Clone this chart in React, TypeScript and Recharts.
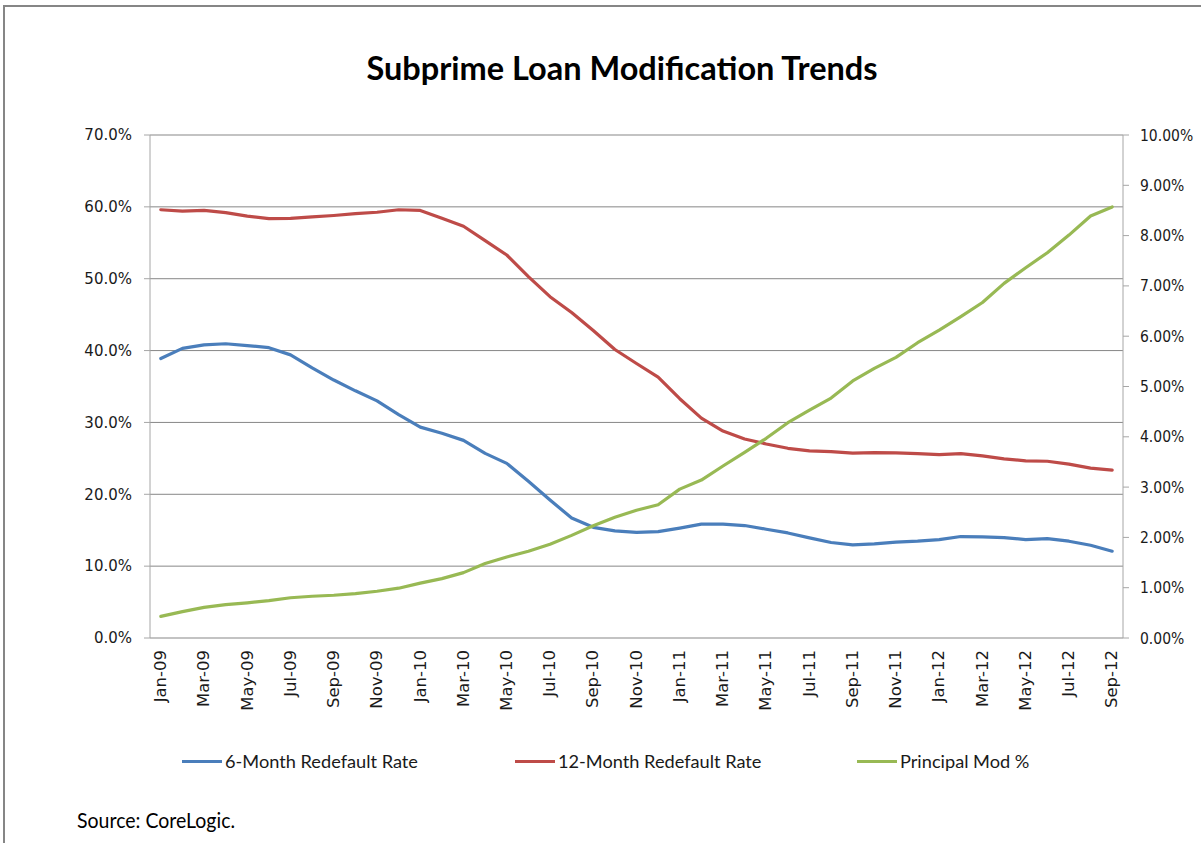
import React from 'react'
import { LineChart, Line, XAxis, YAxis, CartesianGrid } from 'recharts'

// month labels, Jan-09 .. Sep-12
const months = [
  'Jan-09', 'Feb-09', 'Mar-09', 'Apr-09', 'May-09', 'Jun-09', 'Jul-09', 'Aug-09', 'Sep-09', 'Oct-09', 'Nov-09', 'Dec-09',
  'Jan-10', 'Feb-10', 'Mar-10', 'Apr-10', 'May-10', 'Jun-10', 'Jul-10', 'Aug-10', 'Sep-10', 'Oct-10', 'Nov-10', 'Dec-10',
  'Jan-11', 'Feb-11', 'Mar-11', 'Apr-11', 'May-11', 'Jun-11', 'Jul-11', 'Aug-11', 'Sep-11', 'Oct-11', 'Nov-11', 'Dec-11',
  'Jan-12', 'Feb-12', 'Mar-12', 'Apr-12', 'May-12', 'Jun-12', 'Jul-12', 'Aug-12', 'Sep-12',
]

// left axis (%)
const sixMonthRate = [
  38.9, 40.3, 40.8, 40.95, 40.7, 40.4, 39.4, 37.6, 35.9, 34.4, 33.0, 31.1,
  29.35, 28.5, 27.5, 25.7, 24.3, 21.8, 19.2, 16.7, 15.4, 14.9, 14.7, 14.8,
  15.3, 15.84, 15.84, 15.65, 15.14, 14.62, 13.93, 13.29, 12.96, 13.1, 13.33, 13.47,
  13.7, 14.12, 14.08, 13.98, 13.7, 13.84, 13.47, 12.91, 12.08,
]
const twelveMonthRate = [
  59.6, 59.4, 59.5, 59.2, 58.7, 58.35, 58.4, 58.6, 58.8, 59.05, 59.25, 59.6,
  59.5, 58.4, 57.3, 55.3, 53.3, 50.3, 47.5, 45.3, 42.8, 40.15, 38.2, 36.3,
  33.3, 30.6, 28.8, 27.7, 27.0, 26.4, 26.04, 25.95, 25.72, 25.81, 25.76, 25.67,
  25.53, 25.67, 25.35, 24.93, 24.65, 24.6, 24.2, 23.64, 23.36,
]
// right axis (%)
const principalModPct = [
  0.43, 0.525, 0.61, 0.664, 0.7, 0.744, 0.8, 0.83, 0.85, 0.883, 0.93, 0.99,
  1.09, 1.18, 1.3, 1.48, 1.61, 1.725, 1.865, 2.04, 2.23, 2.4, 2.54, 2.65,
  2.96, 3.14, 3.42, 3.69, 3.97, 4.28, 4.53, 4.77, 5.11, 5.36, 5.58, 5.87,
  6.12, 6.39, 6.67, 7.05, 7.36, 7.66, 8.01, 8.39, 8.57,
]

const leftTicks = [0, 10, 20, 30, 40, 50, 60, 70]
const rightTicks = [0, 1, 2, 3, 4, 5, 6, 7, 8, 9, 10]

const series = [
  { key: 'six', name: '6-Month Redefault Rate', color: '#4a7ebb', axis: 'left', legendX: 182 },
  { key: 'twelve', name: '12-Month Redefault Rate', color: '#be4b48', axis: 'left', legendX: 515 },
  { key: 'principal', name: 'Principal Mod %', color: '#98b954', axis: 'right', legendX: 857 },
]

const chartData = months.map((month, i) => ({
  i,
  month,
  six: sixMonthRate[i],
  twelve: twelveMonthRate[i],
  principal: principalModPct[i],
}))

// labels on every other month, tick marks on the category boundaries like Excel
const labelTicks = months.map((_, i) => i).filter((i) => i % 2 === 0)
const markTicks = labelTicks.map((i) => i - 0.5)

const axisGray = '#a6a6a6'
const labelFont = 'DejaVu Sans, Verdana, sans-serif'

function MonthTick({ x, y, payload }: { x?: number; y?: number; payload?: { value: number } }) {
  return (
    <text
      transform={`translate(${x},${y}) rotate(-90) scale(1.1,1)`}
      textAnchor="end"
      dominantBaseline="central"
      fontFamily={labelFont}
      fontSize={15}
      fill="#1a1a1a"
    >
      {months[payload?.value ?? 0]}
    </text>
  )
}

export default function App() {
  return (
    <div style={{ position: 'absolute', left: 0, top: 0, width: 1201, height: 843, background: '#fff', overflow: 'hidden' }}>
      {/* chart frame, only top and left edges are inside the picture */}
      <div
        style={{
          position: 'absolute',
          left: 3,
          top: 5,
          width: 1300,
          height: 900,
          borderTop: '2px solid #868686',
          borderLeft: '2px solid #868686',
        }}
      />
      <div
        style={{
          position: 'absolute',
          left: 0,
          top: 52,
          width: 1244,
          textAlign: 'center',
          fontFamily: 'Lato, sans-serif',
          fontWeight: 700,
          fontSize: 32.5,
          lineHeight: 1,
          color: '#000',
        }}
      >
        Subprime Loan Modification Trends
      </div>

      <div style={{ position: 'absolute', left: 0, top: 0 }}>
        <LineChart width={1201} height={843} data={chartData} margin={{ top: 135, right: 0, bottom: 145, left: 0 }}>
          <CartesianGrid xAxisId={0} yAxisId="left" vertical={false} stroke="#878787" />
          <XAxis
            xAxisId={0}
            dataKey="i"
            type="number"
            domain={[-0.5, 44.5]}
            ticks={markTicks}
            interval={0}
            tick={false}
            tickSize={6}
            tickLine={{ stroke: axisGray }}
            axisLine={{ stroke: axisGray }}
            height={0}
          />
          <XAxis
            xAxisId={1}
            dataKey="i"
            type="number"
            domain={[-0.5, 44.5]}
            ticks={labelTicks}
            interval={0}
            tick={<MonthTick />}
            tickLine={false}
            axisLine={false}
            tickSize={6}
            tickMargin={6}
            height={60}
          />
          <YAxis
            yAxisId="left"
            domain={[0, 70]}
            ticks={leftTicks}
            interval={0}
            tickFormatter={(v: number) => `${v.toFixed(1)}%`}
            width={150}
            tickSize={6}
            tickMargin={12}
            axisLine={{ stroke: axisGray }}
            tickLine={{ stroke: axisGray }}
            tick={{ fontFamily: labelFont, fontSize: 15, fill: '#1a1a1a' }}
          />
          <YAxis
            yAxisId="right"
            orientation="right"
            domain={[0, 10]}
            ticks={rightTicks}
            interval={0}
            tickFormatter={(v: number) => `${v.toFixed(2)}%`}
            width={78}
            tickSize={6}
            tickMargin={11}
            axisLine={{ stroke: axisGray }}
            tickLine={{ stroke: axisGray }}
            tick={{ fontFamily: 'DejaVu Sans Condensed, DejaVu Sans, sans-serif', fontSize: 15.5, fill: '#1a1a1a' }}
          />
          {series.map((s) => (
            <Line
              key={s.key}
              xAxisId={0}
              yAxisId={s.axis}
              type="linear"
              dataKey={s.key}
              name={s.name}
              stroke={s.color}
              strokeWidth={3.2}
              strokeLinejoin="round"
              strokeLinecap="round"
              dot={false}
              activeDot={false}
              isAnimationActive={false}
            />
          ))}
        </LineChart>
      </div>

      {/* legend */}
      {series.map((s) => (
        <div key={s.key} style={{ position: 'absolute', left: s.legendX, top: 750, display: 'flex', alignItems: 'center', height: 22 }}>
          <div style={{ width: 40, height: 3, background: s.color, marginRight: 3 }} />
          <span style={{ fontFamily: 'Lato, sans-serif', fontSize: 18.2, lineHeight: 1, color: '#1a1a1a', whiteSpace: 'nowrap' }}>
            {s.name}
          </span>
        </div>
      ))}

      <div
        style={{
          position: 'absolute',
          left: 77,
          top: 809,
          fontFamily: 'Lato, sans-serif',
          fontSize: 19.5,
          lineHeight: 1,
          color: '#000',
          transform: 'scaleY(1.1)',
          transformOrigin: 'top left',
        }}
      >
        Source: CoreLogic.
      </div>
    </div>
  )
}
